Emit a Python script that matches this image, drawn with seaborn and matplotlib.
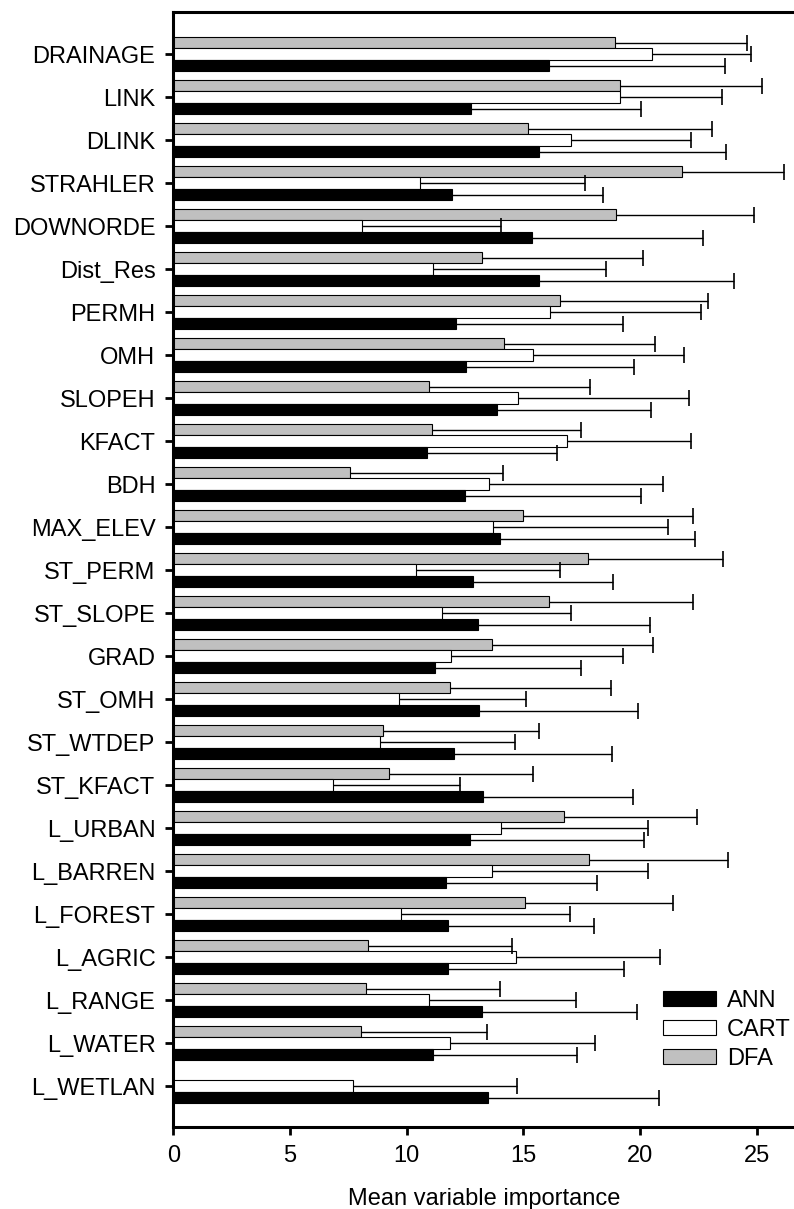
import numpy as np
import pandas as pd
import matplotlib
matplotlib.use('Agg')
import matplotlib.pyplot as plt
import seaborn as sns
from matplotlib.patches import Patch

# variables, top to bottom
variables = ['DRAINAGE', 'LINK', 'DLINK', 'STRAHLER', 'DOWNORDE', 'Dist_Res',
             'PERMH', 'OMH', 'SLOPEH', 'KFACT', 'BDH', 'MAX_ELEV', 'ST_PERM',
             'ST_SLOPE', 'GRAD', 'ST_OMH', 'ST_WTDEP', 'ST_KFACT', 'L_URBAN',
             'L_BARREN', 'L_FOREST', 'L_AGRIC', 'L_RANGE', 'L_WATER', 'L_WETLAN']

ann_mean = [16.10, 12.74, 15.69, 11.94, 15.39, 15.67, 12.10, 12.56, 13.86, 10.85,
            12.48, 13.98, 12.84, 13.07, 11.21, 13.10, 12.01, 13.28, 12.70, 11.68,
            11.77, 11.75, 13.22, 11.14, 13.48]
ann_sd = [7.55, 7.30, 7.99, 6.49, 7.32, 8.36, 7.19, 7.17, 6.63, 5.58,
          7.56, 8.38, 6.02, 7.37, 6.28, 6.83, 6.78, 6.41, 7.46, 6.49,
          6.26, 7.56, 6.63, 6.16, 7.34]

cart_mean = [20.50, 19.15, 17.06, 10.55, 8.06, 11.14, 16.14, 15.41, 14.78, 16.86,
             13.54, 13.69, 10.41, 11.52, 11.91, 9.65, 8.87, 6.83, 14.04, 13.64,
             9.76, 14.70, 10.97, 11.84, 7.71]
cart_sd = [4.25, 4.36, 5.13, 7.08, 5.98, 7.41, 6.46, 6.46, 7.34, 5.33,
           7.44, 7.51, 6.14, 5.54, 7.35, 5.48, 5.76, 5.47, 6.28, 6.69,
           7.24, 6.17, 6.28, 6.22, 7.02]

dfa_mean = [18.91, 19.15, 15.18, 21.82, 18.96, 13.24, 16.55, 14.16, 10.97, 11.07,
            7.57, 14.99, 17.75, 16.08, 13.64, 11.84, 8.96, 9.24, 16.76, 17.80,
            15.08, 8.33, 8.26, 8.04, 0.0]
dfa_sd = [5.67, 6.09, 7.91, 4.36, 5.93, 6.90, 6.38, 6.50, 6.88, 6.40,
          6.55, 7.28, 5.81, 6.19, 6.92, 6.91, 6.73, 6.17, 5.67, 5.97,
          6.33, 6.19, 5.74, 5.41, np.nan]

models = ['DFA', 'CART', 'ANN']
colors = {'DFA': '#c0c0c0', 'CART': 'white', 'ANN': 'black'}
means = {'DFA': dfa_mean, 'CART': cart_mean, 'ANN': ann_mean}
sds = {'DFA': dfa_sd, 'CART': cart_sd, 'ANN': ann_sd}

df = pd.concat([pd.DataFrame({'variable': variables, 'model': m, 'importance': means[m]})
                for m in models], ignore_index=True)

sns.set_style('ticks')
plt.rcParams['font.family'] = ['Liberation Sans', 'DejaVu Sans']
plt.rcParams['text.color'] = 'black'
plt.rcParams['axes.labelcolor'] = 'black'
plt.rcParams['xtick.color'] = 'black'
plt.rcParams['ytick.color'] = 'black'

fig = plt.figure(figsize=(7.94, 12.09), dpi=100)
ax = fig.add_axes([0.2185, 0.0678, 0.7815, 0.9223])

sns.barplot(data=df, y='variable', x='importance', hue='model', hue_order=models,
            order=variables, palette=colors, orient='h', errorbar=None,
            edgecolor='black', linewidth=0.8, width=0.8, legend=False, ax=ax)

# one-sided error bars (mean + sd)
for m, cont in zip(models, ax.containers):
    ys = np.array([p.get_y() + p.get_height() / 2 for p in cont])
    mu = np.array(means[m])
    sd = np.array(sds[m])
    ax.errorbar(mu, ys, xerr=[np.zeros_like(sd), sd], fmt='none',
                ecolor='black', elinewidth=1.0, capsize=0, zorder=3)
    ax.plot(mu + sd, ys, linestyle='none', marker='|', color='black',
            markersize=11, markeredgewidth=1.2, zorder=3)

ax.set_xlim(0, 26.6)
ax.set_ylim(24.95, -0.98)
ax.set_xticks([0, 5, 10, 15, 20, 25])
ax.set_xlabel('Mean variable importance', fontsize=17, labelpad=15)
ax.set_ylabel('')
ax.tick_params(axis='x', labelsize=17, length=6, width=2, pad=7, direction='out',
               colors='black')
ax.tick_params(axis='y', labelsize=17, length=6, width=2, pad=7, direction='out',
               colors='black')

for side in ['left', 'bottom', 'top']:
    ax.spines[side].set_linewidth(2.2)
    ax.spines[side].set_color('black')
ax.spines['right'].set_visible(False)

handles = [Patch(facecolor=colors[m], edgecolor='black', linewidth=0.8)
           for m in ['ANN', 'CART', 'DFA']]
ax.legend(handles, ['ANN', 'CART', 'DFA'], loc='upper left',
          bbox_to_anchor=(663 / 794, 1 - 990 / 1209), bbox_transform=fig.transFigure,
          frameon=False, borderpad=0, borderaxespad=0, fontsize=17,
          handlelength=2.25, handleheight=0.6, handletextpad=0.45,
          labelspacing=0.29, labelcolor='black')

fig.savefig('out.png', dpi=100)
